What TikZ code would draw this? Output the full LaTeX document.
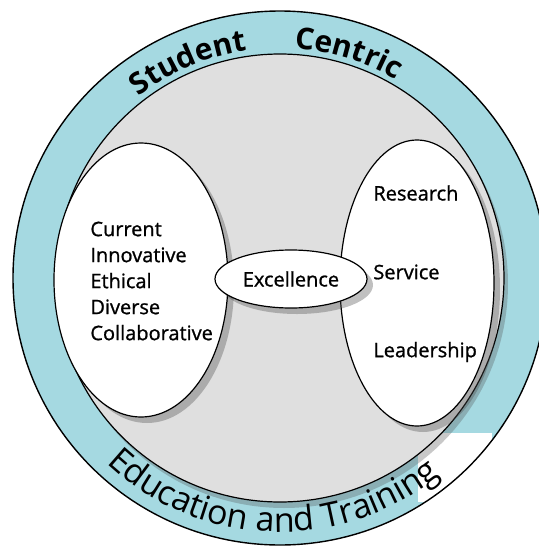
\documentclass[tikz,border=0pt]{standalone}
\usepackage{fontspec}
\setmainfont{Open Sans}
\newfontfamily\medsans{Open Sans}[FakeBold=1]
\usetikzlibrary{shapes.geometric,shadows,decorations.text}

\definecolor{ringblue}{RGB}{165,217,225}
\definecolor{innergray}{RGB}{223,223,223}

\tikzset{
  oval/.style={draw, ellipse, fill=white, inner sep=0pt, line width=0.6pt,
    drop shadow={shadow xshift=3pt, shadow yshift=-3pt, opacity=0.35, fill=black!70}},
  wordtext/.style={anchor=west, inner sep=0pt, font=\medsans\fontsize{10}{13}\selectfont},
}
\newcommand\topringfont{\fontsize{15}{15}\selectfont\bfseries}
\newcommand\bottomringfont{\fontsize{17}{17}\selectfont}

\begin{document}
\begin{tikzpicture}[x=1pt, y=1pt]
\useasboundingbox[fill=white] (-140,-135) rectangle (129.5,139);

% リング
\fill[ringblue] (0,0) circle[radius=133.5pt];
\fill[white] (69,-77.5) rectangle (106,-112);
\draw[line width=0.7pt] (0,0) circle[radius=133.5pt];
\draw[line width=0.6pt, fill=innergray,
  drop shadow={shadow xshift=2pt, shadow yshift=-3pt, opacity=0.3, fill=black!70}] (0,0) circle[radius=112pt];

% リング上の文字
\path[decorate, decoration={text along path, text={|\topringfont|Student}, text align=center}]
  (140:115) arc[start angle=140, end angle=86, radius=115pt];
\path[decorate, decoration={text along path, text={|\topringfont|Centric}, text align=center}]
  (100:115) arc[start angle=100, end angle=46, radius=115pt];
\path[decorate, decoration={text along path, text={|\bottomringfont|Education and Training}, text align=center}]
  (214:127) arc[start angle=214, end angle=322, radius=127pt];

% ノード(座標で配置)
\node[oval, minimum width=87pt, minimum height=137pt] (values) at (-69.5,-1)  {};
\node[oval, minimum width=77pt, minimum height=143pt] (roles)  at (68.5,-2.5) {};
\node[oval, minimum width=76pt, minimum height=29pt, font=\medsans\fontsize{10}{12}\selectfont] (excellence) at (5.5,-0.5) {Excellence};

% 注記
\node[wordtext, align=left] (valuelist) at (-95,-1.5) {Current\\Innovative\\Ethical\\Diverse\\Collaborative};
\node[wordtext] (research)   at (46.5,42.5) {Research};
\node[wordtext] (service)    at (46.5,3)    {Service};
\node[wordtext] (leadership) at (46.5,-37)  {Leadership};
\end{tikzpicture}
\end{document}
